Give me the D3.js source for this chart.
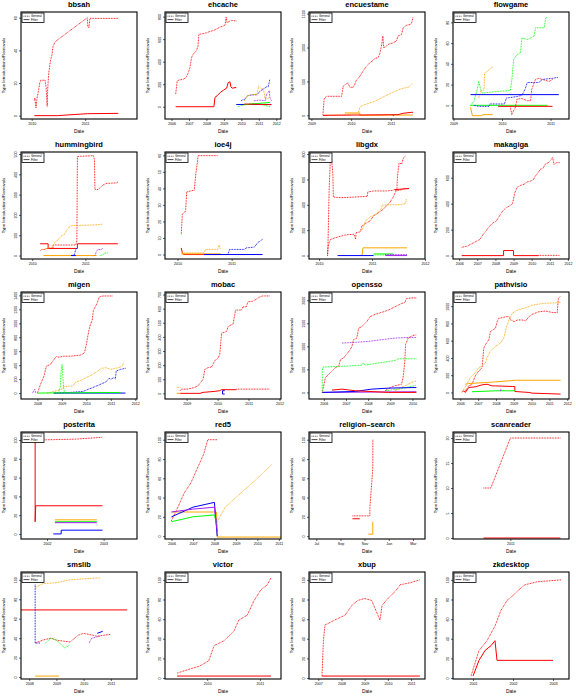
<!DOCTYPE html>
<html><head><meta charset="utf-8">
<script src="https://cdn.jsdelivr.net/npm/d3@7"></script>
<style>body{margin:0;background:#fff}svg{display:block}text{font-family:"Liberation Sans",Arial,sans-serif}</style>
</head><body><svg id="c" width="576" height="698"></svg>
<script>
// ---------- DATA (x = decimal year, y = type introductions/removals) ----------
const bbsah = {title:"bbsah", x:[2009.80,2011.97], y:[-2.05,63.5], xt:[2010,2011], yt:[0,20,40,60], s:[
 {c:"red",t:"G",d:[[2010.05,9.4],[2010.06,10.8],[2010.08,4.7],[2010.10,10.8],[2010.12,13.9],[2010.15,20],[2010.17,21.7],[2010.25,21.7],[2010.27,17],[2010.29,5.7],[2010.30,17],[2010.32,26.2],[2010.35,33.4],[2010.38,37.5],[2010.40,42.6],[2010.43,44.6],[2010.45,45.6],[2011.04,60],[2011.05,54.9],[2011.07,53.8],[2011.09,59.6],[2011.62,59.6]]},
 {c:"red",t:"F",d:[[2010.05,0],[2010.48,0],[2011.04,1.2],[2011.62,1.4]]}]};

const ehcache = {title:"ehcache", x:[2005.63,2012.27], y:[-109,841], xt:[2006,2007,2008,2009,2010,2011,2012], yt:[0,200,400,600,800], s:[
 {c:"red",t:"G",d:[[2006.24,112],[2006.33,230],[2006.42,236],[2006.69,245],[2006.84,260],[2006.97,304],[2007.06,348],[2007.15,437],[2007.24,466],[2007.43,496],[2007.52,540],[2007.57,643],[2007.61,643],[2008.07,658],[2008.16,667],[2008.43,678],[2008.61,693],[2008.79,708],[2008.98,717],[2009.07,726],[2009.13,796],[2009.18,746],[2009.35,761],[2009.44,767],[2009.71,761]]},
 {c:"red",t:"F",d:[[2006.24,0],[2008.43,0],[2008.49,83],[2008.61,97],[2008.80,127],[2008.98,147],[2009.07,156],[2009.16,165],[2009.25,215],[2009.35,221],[2009.40,177],[2009.47,165],[2009.71,171]]},
 {c:"blue",t:"F",d:[[2009.71,20],[2011.72,20]]},
 {c:"blue",t:"G",d:[[2009.99,53],[2010.08,62],[2010.17,62],[2010.35,97],[2010.54,103],[2010.72,106],[2010.90,106],[2011.08,140],[2011.26,156],[2011.45,177],[2011.54,177],[2011.63,245]]},
 {c:"orange",t:"G",d:[[2010.17,53],[2010.35,97],[2010.54,106],[2010.90,112],[2010.99,186],[2011.08,171],[2011.17,156],[2011.26,165],[2011.36,68],[2011.45,68],[2011.63,83]]},
 {c:"green",t:"G",d:[[2009.80,0],[2009.99,9],[2010.17,18],[2010.72,29],[2011.08,24],[2011.63,0]]},
 {c:"green",t:"F",d:[[2010.17,18],[2011.63,38]]},
 {c:"purple",t:"G",d:[[2010.72,53],[2011.08,59],[2011.36,53],[2011.45,112],[2011.60,142],[2011.63,83],[2011.72,53]]},
 {c:"red",t:"F",d:[[2010.17,24],[2011.72,18]]}]};

const encuestame = {title:"encuestame", x:[2008.94,2011.86], y:[-54,1524], xt:[2009,2010,2011], yt:[0,500,1000,1500], s:[
 {c:"red",t:"G",d:[[2009.29,10],[2009.32,232],[2009.35,266],[2009.40,281],[2009.76,281],[2009.80,429],[2009.88,464],[2009.92,479],[2009.97,414],[2010.05,414],[2010.09,454],[2010.13,513],[2010.22,577],[2010.30,651],[2010.39,725],[2010.47,775],[2010.55,809],[2010.60,839],[2010.68,849],[2010.72,908],[2010.76,1006],[2010.80,1169],[2010.82,997],[2010.89,1021],[2010.93,1046],[2011.06,1071],[2011.14,1095],[2011.18,1169],[2011.27,1194],[2011.31,1293],[2011.39,1327],[2011.50,1342],[2011.53,1376],[2011.56,1450]]},
 {c:"orange",t:"G",d:[[2009.29,0],[2009.92,10],[2010.18,30],[2010.22,118],[2010.30,148],[2010.47,183],[2010.60,207],[2010.76,257],[2010.93,306],[2011.10,355],[2011.27,395],[2011.44,414],[2011.54,464]]},
 {c:"orange",t:"F",d:[[2009.84,35],[2010.22,35],[2010.22,0],[2011.56,5]]},
 {c:"red",t:"F",d:[[2009.29,0],[2011.18,10],[2011.31,30],[2011.51,44],[2011.56,44]]},
 {c:"blue",t:"F",d:[[2011.05,0],[2011.07,-5]]}]};

const flowgame = {title:"flowgame", x:[2008.99,2011.38], y:[-13.2,90], xt:[2009,2010,2011], yt:[0,20,40,60,80], s:[
 {c:"green",t:"G",d:[[2009.35,0],[2009.42,3.9],[2009.49,15.2],[2009.52,23.2],[2009.56,15.2],[2009.59,11.9],[2009.63,11.9],[2009.92,13.5],[2010.17,14.2],[2010.20,23.2],[2010.24,44.2],[2010.31,49],[2010.38,50.6],[2010.41,65],[2010.52,63.5],[2010.59,65],[2010.66,66.8],[2010.69,74.8],[2010.87,74.8],[2010.90,84.5],[2010.94,84.5]]},
 {c:"green",t:"F",d:[[2009.35,0],[2010.94,0]]},
 {c:"orange",t:"G",d:[[2009.52,7],[2009.56,13.5],[2009.63,15.2],[2009.64,31],[2009.70,32.9],[2009.77,36],[2009.81,36.8]]},
 {c:"orange",t:"F",d:[[2009.35,-2],[2009.39,-10],[2009.56,-10],[2009.63,-9],[2009.81,-9]]},
 {c:"blue",t:"F",d:[[2009.35,10.3],[2011.17,10.3]]},
 {c:"blue",t:"G",d:[[2009.42,0],[2009.52,-1],[2009.73,-1],[2009.75,1.3],[2010.05,1.3],[2010.09,7],[2010.24,8],[2010.31,8.5],[2010.41,9.7],[2010.48,16],[2010.52,22],[2010.76,22],[2010.83,25],[2011.04,26],[2011.15,27]]},
 {c:"red",t:"G",d:[[2010.17,-1],[2010.20,-9],[2010.24,-5],[2010.27,-2.6],[2010.31,6],[2010.41,6.5],[2010.52,4.5],[2010.59,4.5],[2010.61,15],[2010.66,21.6],[2010.69,25],[2010.76,26],[2010.90,24],[2010.97,23],[2011.04,25]]},
 {c:"red",t:"F",d:[[2009.92,-1],[2011.04,-1]]}]};

const hummingbird = {title:"hummingbird", x:[2009.79,2011.97], y:[-17,510], xt:[2010,2011], yt:[0,100,200,300,400,500], s:[
 {c:"red",t:"G",d:[[2010.15,22],[2010.18,30],[2010.24,30],[2010.27,35],[2010.39,35],[2010.39,52],[2010.82,52],[2010.84,72],[2010.85,488],[2011.15,492],[2011.17,472],[2011.18,325],[2011.24,325],[2011.27,333],[2011.33,347],[2011.39,355],[2011.58,358],[2011.61,362]]},
 {c:"red",t:"F",d:[[2010.15,58],[2010.30,58],[2010.30,35],[2010.85,35],[2010.85,58],[2011.61,58]]},
 {c:"orange",t:"G",d:[[2010.21,30],[2010.27,35],[2010.39,42],[2010.42,63],[2010.48,75],[2010.55,97],[2010.61,105],[2010.64,122],[2010.70,142],[2010.73,147],[2011.09,150],[2011.24,152],[2011.33,155]]},
 {c:"orange",t:"F",d:[[2010.21,0],[2011.21,0]]},
 {c:"blue",t:"G",d:[[2010.73,0],[2010.79,3],[2010.82,30],[2010.84,38]]},
 {c:"blue",t:"F",d:[[2010.73,0],[2010.82,0]]},
 {c:"purple",t:"G",d:[[2011.18,0],[2011.21,22],[2011.24,30],[2011.30,30],[2011.33,38]]},
 {c:"green",t:"G",d:[[2011.27,0],[2011.33,3],[2011.36,13],[2011.42,13]]}]};

const ioe4j = {title:"ioe4j", x:[2009.77,2011.91], y:[-2.7,62], xt:[2010,2011], yt:[0,10,20,30,40,50,60], s:[
 {c:"red",t:"G",d:[[2010.07,12.3],[2010.09,24.2],[2010.12,25.6],[2010.15,26],[2010.17,37.9],[2010.31,38.9],[2010.34,49.2],[2010.37,56.4],[2010.38,59.8],[2010.74,59.8]]},
 {c:"red",t:"F",d:[[2010.07,4],[2010.09,1],[2010.11,0],[2010.80,0]]},
 {c:"orange",t:"G",d:[[2010.09,1],[2010.49,1],[2010.52,3.1],[2010.74,3.1],[2010.77,5.7],[2010.79,3.1]]},
 {c:"orange",t:"F",d:[[2010.07,0.4],[2010.80,0.4]]},
 {c:"blue",t:"G",d:[[2010.49,0],[2010.93,0],[2010.96,3.1],[2011.23,3.1],[2011.27,4],[2011.42,4.5],[2011.48,7.2],[2011.57,9.2]]},
 {c:"blue",t:"F",d:[[2010.49,0],[2011.57,0]]}]};

const libgdx = {title:"libgdx", x:[2009.81,2012.0], y:[-27,816], xt:[2010,2011,2012], yt:[0,200,400,600,800], s:[
 {c:"red",t:"G",d:[[2010.16,0],[2010.17,115],[2010.19,515],[2010.21,728],[2010.24,741],[2010.26,648],[2010.27,461],[2010.42,456],[2010.66,461],[2010.91,467],[2010.92,501],[2011.03,509],[2011.28,509],[2011.40,515],[2011.43,520],[2011.46,509],[2011.57,520],[2011.60,528],[2011.70,528]]},
 {c:"red",t:"G",d:[[2010.16,0],[2010.17,61],[2010.19,101],[2010.22,128],[2010.31,141],[2010.50,163],[2010.66,168],[2010.69,128],[2010.70,181],[2010.78,187],[2010.81,235],[2010.88,253],[2010.97,275],[2011.03,315],[2011.09,328],[2011.16,349],[2011.22,368],[2011.28,395],[2011.34,421],[2011.40,461],[2011.43,488],[2011.47,528],[2011.48,621],[2011.51,728],[2011.56,723],[2011.59,768],[2011.64,787]]},
 {c:"red",t:"F",d:[[2011.43,520],[2011.70,528]]},
 {c:"orange",t:"G",d:[[2010.81,200],[2010.88,275],[2010.97,307],[2011.03,315],[2011.16,355],[2011.19,395],[2011.28,400],[2011.47,400],[2011.63,408],[2011.65,448]]},
 {c:"orange",t:"F",d:[[2010.81,0],[2010.83,61],[2011.66,61]]},
 {c:"blue",t:"F",d:[[2010.35,0],[2011.03,0]]},
 {c:"green",t:"F",d:[[2011.03,13],[2011.40,13]]},
 {c:"green",t:"G",d:[[2011.03,5],[2011.40,5]]},
 {c:"purple",t:"F",d:[[2011.25,0],[2011.66,0]]},
 {c:"purple",t:"G",d:[[2011.25,8],[2011.66,8]]}]};

const makagiga = {title:"makagiga", x:[2005.66,2012.06], y:[-26,798], xt:[2006,2007,2008,2009,2010,2011,2012], yt:[0,200,400,600], s:[
 {c:"red",t:"G",d:[[2006.14,64],[2006.42,72],[2006.60,85],[2006.78,98],[2006.96,111],[2007.14,124],[2007.32,162],[2007.50,193],[2007.68,227],[2007.86,252],[2008.04,265],[2008.22,304],[2008.40,343],[2008.58,368],[2008.76,381],[2008.94,399],[2009.07,484],[2009.21,528],[2009.39,541],[2009.57,549],[2009.75,567],[2009.93,574],[2010.11,587],[2010.20,613],[2010.29,626],[2010.47,664],[2010.65,677],[2010.74,703],[2010.92,716],[2011.01,729],[2011.16,755],[2011.23,703],[2011.37,716],[2011.55,716]]},
 {c:"red",t:"F",d:[[2006.14,0],[2008.45,0],[2008.45,39],[2009.0,39],[2009.0,0],[2010.38,0]]},
 {c:"red",t:"G",d:[[2010.38,2],[2011.55,2]]}]};

const migen = {title:"migen", x:[2007.33,2012.07], y:[-85,1448], xt:[2008,2009,2010,2011,2012], yt:[0,200,400,600,800,1000,1200,1400], s:[
 {c:"red",t:"G",d:[[2008.0,0],[2008.13,127],[2008.27,245],[2008.37,387],[2008.47,401],[2008.51,401],[2008.77,524],[2008.87,514],[2009.07,528],[2009.33,528],[2009.73,542],[2009.87,561],[2009.93,590],[2010.0,693],[2010.07,835],[2010.11,906],[2010.16,976],[2010.24,1047],[2010.29,1189],[2010.37,1236],[2010.47,1316],[2010.53,1377],[2010.67,1391],[2011.07,1391]]},
 {c:"orange",t:"G",d:[[2008.40,0],[2008.80,33],[2009.0,57],[2009.07,90],[2009.47,104],[2009.53,151],[2009.73,175],[2009.87,198],[2010.0,222],[2010.27,269],[2010.47,316],[2010.60,354],[2010.80,363],[2011.0,340],[2011.13,354],[2011.33,363],[2011.47,387],[2011.53,448]]},
 {c:"blue",t:"G",d:[[2008.67,0],[2009.33,9],[2009.87,24],[2010.0,42],[2010.27,80],[2010.53,118],[2010.80,160],[2010.93,212],[2011.0,198],[2011.13,222],[2011.19,205],[2011.22,316],[2011.40,340],[2011.60,354]]},
 {c:"blue",t:"F",d:[[2008.67,0],[2011.60,0]]},
 {c:"green",t:"G",d:[[2008.87,0],[2008.93,80],[2008.97,316],[2009.01,410],[2009.07,80],[2009.11,0]]},
 {c:"green",t:"F",d:[[2008.0,0],[2011.40,9]]},
 {c:"purple",t:"G",d:[[2007.8,0],[2007.89,57],[2007.93,0]]}]};

const mobac = {title:"mobac", x:[2008.30,2012.05], y:[-40,718], xt:[2009,2010,2011,2012], yt:[0,100,200,300,400,500,600,700], s:[
 {c:"red",t:"G",d:[[2008.79,19],[2008.82,30],[2009.05,30],[2009.26,42],[2009.37,54],[2009.53,100],[2009.59,170],[2009.69,182],[2009.80,186],[2009.85,205],[2009.91,233],[2009.97,240],[2010.02,252],[2010.07,275],[2010.13,427],[2010.29,438],[2010.34,473],[2010.43,485],[2010.50,490],[2010.58,590],[2010.77,590],[2010.82,613],[2010.93,613],[2010.98,648],[2011.14,653],[2011.25,667],[2011.36,683],[2011.46,690],[2011.68,690]]},
 {c:"red",t:"F",d:[[2008.79,0],[2009.43,0],[2009.53,7],[2009.91,14],[2010.07,19],[2010.13,26],[2010.61,26]]},
 {c:"red",t:"G",d:[[2010.61,30],[2011.68,30]]},
 {c:"orange",t:"G",d:[[2008.68,42],[2008.79,42]]},
 {c:"orange",t:"F",d:[[2008.68,0],[2008.79,0]]},
 {c:"blue",t:"F",d:[[2010.23,19],[2010.16,19],[2010.16,-5],[2010.23,-5]]}]};

const opensso = {title:"opensso", x:[2005.33,2010.57], y:[-143,2179], xt:[2006,2007,2008,2009,2010], yt:[0,500,1000,1500,2000], s:[
 {c:"red",t:"G",d:[[2005.93,0],[2006.07,321],[2006.22,393],[2006.37,464],[2006.52,536],[2006.67,571],[2006.75,714],[2006.90,750],[2007.04,836],[2007.19,929],[2007.27,1000],[2007.34,1143],[2007.49,1179],[2007.57,1393],[2007.72,1429],[2007.79,1464],[2007.94,1536],[2008.09,1643],[2008.31,1693],[2008.61,1736],[2008.91,1786],[2009.21,1857],[2009.36,1893],[2009.51,1929],[2009.66,1950],[2009.73,2036],[2009.96,2050],[2010.18,2050]]},
 {c:"red",t:"G",d:[[2008.76,36],[2009.06,121],[2009.21,143],[2009.51,179],[2009.58,321],[2009.66,679],[2009.69,1036],[2009.81,1179],[2010.03,1236],[2010.18,1250]]},
 {c:"purple",t:"G",d:[[2006.82,1071],[2007.42,1086],[2008.02,1107],[2008.61,1143],[2009.21,1179],[2009.81,1193],[2010.18,1193]]},
 {c:"purple",t:"F",d:[[2005.93,0],[2010.18,14]]},
 {c:"green",t:"G",d:[[2005.93,0],[2005.93,464],[2005.96,550],[2007.0,570],[2007.72,593],[2007.79,643],[2007.86,593],[2009.21,693],[2009.36,729],[2010.18,729]]},
 {c:"green",t:"G",d:[[2008.76,36],[2009.5,80],[2010.18,157]]},
 {c:"orange",t:"G",d:[[2009.21,36],[2009.66,143],[2009.96,214],[2010.18,250]]},
 {c:"blue",t:"F",d:[[2005.93,0],[2007.42,21],[2008.16,71],[2008.91,93],[2010.18,107]]},
 {c:"red",t:"F",d:[[2006.37,50],[2006.82,71],[2007.42,36],[2008.91,0],[2010.18,0]]}]};

const pathvisio = {title:"pathvisio", x:[2005.59,2012.1], y:[-76,1164], xt:[2006,2007,2008,2009,2010,2011,2012], yt:[0,200,400,600,800,1000], s:[
 {c:"red",t:"G",d:[[2006.09,8],[2006.28,19],[2006.47,76],[2006.66,95],[2006.84,191],[2007.03,248],[2007.22,286],[2007.32,515],[2007.41,553],[2007.60,611],[2007.69,706],[2007.97,744],[2008.07,821],[2008.16,859],[2008.35,866],[2008.54,878],[2008.73,878],[2008.82,840],[2009.03,821],[2009.22,840],[2009.47,840],[2009.66,828],[2009.85,878],[2010.03,905],[2010.41,935],[2010.78,943],[2011.16,927],[2011.44,924],[2011.50,1088],[2011.63,1118]]},
 {c:"orange",t:"G",d:[[2006.09,0],[2006.37,95],[2006.56,172],[2006.84,229],[2007.03,286],[2007.22,305],[2007.41,343],[2007.50,401],[2007.69,477],[2007.97,534],[2008.25,573],[2008.44,630],[2008.57,744],[2008.73,840],[2008.91,916],[2009.19,954],[2009.66,981],[2010.03,1011],[2010.60,1031],[2011.63,1042]]},
 {c:"orange",t:"F",d:[[2006.28,95],[2006.47,103],[2007.97,122],[2009.10,141],[2011.63,141]]},
 {c:"red",t:"F",d:[[2006.19,19],[2006.28,0],[2006.47,57],[2006.84,65],[2007.22,88],[2007.50,95],[2007.78,76],[2007.97,76],[2008.91,69],[2009.06,69],[2009.06,11],[2009.85,0],[2010.03,-8],[2011.63,-19]]},
 {c:"green",t:"F",d:[[2006.66,8],[2007.97,19],[2009.06,19]]},
 {c:"purple",t:"G",d:[[2008.25,19],[2008.28,38],[2008.30,19]]}]};

const posterita = {title:"posterita", x:[2001.54,2003.59], y:[-5.4,108.6], xt:[2002,2003], yt:[0,20,40,60,80,100], s:[
 {c:"red",t:"G",d:[[2001.79,100],[2002.5,101],[2002.98,103]]},
 {c:"red",t:"F",d:[[2001.79,100],[2001.79,13],[2001.80,30],[2002.98,30]]},
 {c:"orange",t:"F",d:[[2002.14,15],[2002.88,15]]},
 {c:"green",t:"F",d:[[2002.14,13],[2002.88,13]]},
 {c:"purple",t:"F",d:[[2002.14,12],[2002.88,12]]},
 {c:"blue",t:"F",d:[[2002.11,0],[2002.25,0],[2002.25,4],[2002.98,4]]}]};

const red5 = {title:"red5", x:[2005.7,2011.1], y:[-3,108], xt:[2006,2007,2008,2009,2010,2011], yt:[0,20,40,60,80,100], s:[
 {c:"red",t:"G",d:[[2006.0,16],[2006.3,30],[2006.6,45],[2006.9,55],[2007.2,70],[2007.5,85],[2007.69,100],[2008.13,100]]},
 {c:"orange",t:"G",d:[[2008.13,15],[2008.5,30],[2009,40],[2009.5,50],[2010,60],[2010.66,74]]},
 {c:"orange",t:"F",d:[[2006,25],[2008.1,25],[2008.13,-1],[2011.1,-1]]},
 {c:"blue",t:"F",d:[[2006,20],[2007,30],[2008,35],[2008.13,0]]},
 {c:"green",t:"F",d:[[2006,15],[2007,20],[2008,22],[2008.13,10]]},
 {c:"purple",t:"F",d:[[2006,25],[2007,28],[2008,30],[2008.13,5]]}]};

const religionSearch = {title:"religion\u2013search", x:[2010.45,2011.25], y:[-3,108], xt:[2010.5,2010.667,2010.833,2011.0,2011.167], xl:["Jul","Sep","Nov","Jan","Mar"], yt:[0,20,40,60,80,100], s:[
 {c:"red",t:"G",d:[[2010.75,21],[2010.87,21],[2010.87,30],[2010.89,70],[2010.89,100]]},
 {c:"red",t:"F",d:[[2010.75,18],[2010.80,18]]},
 {c:"orange",t:"F",d:[[2010.86,2],[2010.89,2],[2010.89,15]]}]};

const scanreader = {title:"scanreader", x:[2010.53,2011.48], y:[-0.2,21.2], xt:[2011], yt:[0,5,10,15,20], s:[
 {c:"red",t:"G",d:[[2010.78,10],[2010.84,10],[2011.0,20],[2011.41,20]]},
 {c:"red",t:"F",d:[[2010.78,0],[2011.41,0]]}]};

const smslib = {title:"smslib", x:[2007.7,2011.96], y:[-2,108], xt:[2008,2009,2010,2011], yt:[0,20,40,60,80,100], s:[
 {c:"orange",t:"G",d:[[2008.22,92],[2008.5,96],[2009,97],[2009.5,100],[2010,101],[2010.6,102]]},
 {c:"red",t:"F",d:[[2007.7,69],[2011.6,69]]},
 {c:"blue",t:"G",d:[[2008.22,95],[2008.22,35],[2008.4,35]]},
 {c:"red",t:"G",d:[[2008.22,35],[2008.5,38],[2008.8,40],[2009,38],[2009.5,36],[2009.8,43],[2010,45],[2010.5,42],[2011,44]]},
 {c:"green",t:"G",d:[[2008.6,35],[2008.8,40],[2009,38],[2009.3,30],[2009.5,33]]},
 {c:"purple",t:"G",d:[[2010.2,35],[2010.3,40],[2010.6,42]]},
 {c:"blue",t:"F",d:[[2010.5,45],[2010.7,47]]},
 {c:"orange",t:"F",d:[[2008.22,1],[2009.1,1]]}]};

const victor = {title:"victor", x:[2009.2,2011.4], y:[-1,108], xt:[2010,2011], yt:[0,20,40,60,80,100], s:[
 {c:"red",t:"G",d:[[2009.43,5],[2009.66,9],[2009.85,12],[2010.03,17.5],[2010.13,33],[2010.32,38],[2010.51,48],[2010.60,59],[2010.76,64],[2010.89,79],[2011.02,90],[2011.14,95],[2011.21,102]]},
 {c:"red",t:"F",d:[[2009.43,2],[2011.21,2]]}]};

const xbup = {title:"xbup", x:[2006.6,2011.6], y:[-1,108], xt:[2007,2008,2009,2010,2011], yt:[0,20,40,60,80,100], s:[
 {c:"red",t:"G",d:[[2007.16,2],[2007.22,38],[2007.29,54],[2007.7,59],[2008.15,64],[2008.45,74],[2008.7,79],[2009.0,81],[2009.3,79],[2009.66,59],[2009.75,74],[2010.0,81],[2010.31,88],[2010.53,95],[2010.95,97],[2011.38,100]]},
 {c:"red",t:"F",d:[[2007.16,2],[2011.38,2]]}]};

const zkdesktop = {title:"zkdesktop", x:[2000.5,2003.4], y:[-1,108], xt:[2001,2002,2003], yt:[0,20,40,60,80,100], s:[
 {c:"red",t:"G",d:[[2000.95,2],[2001.15,28],[2001.35,38],[2001.55,53],[2001.7,69],[2001.85,79],[2002.0,84],[2002.15,90],[2002.3,95],[2002.6,98],[2003.2,100]]},
 {c:"red",t:"F",d:[[2001.0,2],[2001.15,18],[2001.3,28],[2001.45,33],[2001.55,38],[2001.6,18],[2003.0,18]]}]};

const panels = [bbsah, ehcache, encuestame, flowgame, hummingbird, ioe4j, libgdx, makagiga,
  migen, mobac, opensso, pathvisio, posterita, red5, religionSearch, scanreader,
  smslib, victor, xbup, zkdesktop];

// ---------- DRAWING ----------
const CW = 144, CH = 140;
const BOX = {l:21, r:137, t:12, b:119};
const COLORS = {red:"#ff0000", orange:"#ffa500", blue:"#0000ff", green:"#00ff00", purple:"#a020f0"};
const svg = d3.select("#c");
svg.append("rect").attr("width",576).attr("height",698).attr("fill","#fff");

panels.forEach((p, i) => {
  const col = i % 4, row = Math.floor(i / 4);
  const g = svg.append("g").attr("transform", `translate(${col*CW},${row*CH})`);
  const x = d3.scaleLinear().domain(p.x).range([BOX.l, BOX.r]);
  const y = d3.scaleLinear().domain(p.y).range([BOX.b, BOX.t]);

  g.append("clipPath").attr("id", "cp" + i).append("rect")
    .attr("x", BOX.l).attr("y", BOX.t).attr("width", BOX.r - BOX.l).attr("height", BOX.b - BOX.t);

  const line = d3.line().x(d => x(d[0])).y(d => y(d[1]));
  const lg = g.append("g").attr("clip-path", `url(#cp${i})`);
  p.s.forEach(s => {
    lg.append("path").attr("d", line(s.d)).attr("fill", "none")
      .attr("stroke", COLORS[s.c]).attr("stroke-width", 1)
      .attr("stroke-dasharray", s.t === "G" ? "0.8,0.8" : null);
  });

  // axes
  const xa = d3.axisBottom(x).tickValues(p.xt).tickSize(2).tickPadding(1.5)
    .tickFormat((d, j) => p.xl ? p.xl[j] : String(d));
  const xg = g.append("g").attr("transform", `translate(0,${BOX.b})`).call(xa);
  xg.select(".domain").remove();
  xg.selectAll("line").attr("stroke", "#000").attr("stroke-width", 0.6);
  xg.selectAll("text").attr("font-size", 3.6).attr("fill", "#000").attr("font-family", "Liberation Sans, Arial, sans-serif");

  const ya = d3.axisLeft(y).tickValues(p.yt).tickSize(2).tickFormat(d => String(d));
  const yg = g.append("g").attr("transform", `translate(${BOX.l},0)`).call(ya);
  yg.select(".domain").remove();
  yg.selectAll("line").attr("stroke", "#000").attr("stroke-width", 0.6);
  yg.selectAll("text").attr("font-size", 3.6).attr("fill", "#000")
    .attr("font-family", "Liberation Sans, Arial, sans-serif")
    .attr("text-anchor", "middle").attr("x", null).attr("dy", null)
    .attr("transform", "translate(-4.5,0) rotate(-90)");

  // box
  g.append("rect").attr("x", BOX.l).attr("y", BOX.t).attr("width", BOX.r - BOX.l).attr("height", BOX.b - BOX.t)
    .attr("fill", "none").attr("stroke", "#000").attr("stroke-width", 1.1);

  // titles
  g.append("text").attr("x", (BOX.l + BOX.r) / 2).attr("y", 7).attr("text-anchor", "middle")
    .attr("font-size", 7.5).attr("font-weight", "bold").text(p.title);
  g.append("text").attr("x", (BOX.l + BOX.r) / 2).attr("y", 133).attr("text-anchor", "middle")
    .attr("font-size", 4.8).text("Date");
  g.append("text").attr("transform", `translate(5,${(BOX.t + BOX.b) / 2}) rotate(-90)`)
    .attr("text-anchor", "middle").attr("font-size", 4.3).text("Type Introductions/Removals");

  // legend
  const L = g.append("g").attr("transform", `translate(${BOX.l + 1},${BOX.t + 1})`);
  L.append("rect").attr("width", 22).attr("height", 9.5).attr("fill", "#fff").attr("stroke", "#000").attr("stroke-width", 0.8);
  L.append("line").attr("x1", 1.5).attr("x2", 7.5).attr("y1", 3.2).attr("y2", 3.2).attr("stroke", "#000").attr("stroke-width", 0.7).attr("stroke-dasharray", "1,0.7");
  L.append("line").attr("x1", 1.5).attr("x2", 7.5).attr("y1", 6.6).attr("y2", 6.6).attr("stroke", "#000").attr("stroke-width", 0.7);
  L.append("text").attr("x", 9).attr("y", 4.3).attr("font-size", 3).text("General");
  L.append("text").attr("x", 9).attr("y", 7.7).attr("font-size", 3).text("Filter");
});
</script></body></html>
